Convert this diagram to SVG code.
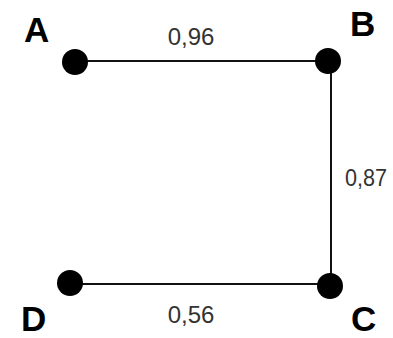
<svg xmlns="http://www.w3.org/2000/svg" width="393" height="338" viewBox="0 0 393 338">
<style>
.edge{stroke:#111;stroke-width:2;fill:none}
.dot{fill:#000}
.lbl{font-family:"Liberation Sans",Arial,sans-serif;font-size:35px;font-weight:bold;fill:#000}
.w{font-family:"Liberation Sans",Arial,sans-serif;font-size:24px;fill:#333}
</style>
<rect width="393" height="338" fill="#fff"/>
<g id="connectors">
<line class="edge" x1="76" y1="61" x2="331" y2="61"/>
<line class="edge" x1="331" y1="61" x2="331" y2="286"/>
<line class="edge" x1="70" y1="284" x2="330" y2="284" stroke="#444"/>
<text class="w" x="191" y="45" text-anchor="middle">0,96</text>
<text class="w" x="345" y="186" textLength="42" lengthAdjust="spacingAndGlyphs">0,87</text>
<text class="w" x="191" y="323" text-anchor="middle">0,56</text>
</g>
<g id="A"><circle class="dot" cx="75" cy="62" r="13"/><text class="lbl" x="24" y="42">A</text></g>
<g id="B"><circle class="dot" cx="328" cy="61" r="13"/><text class="lbl" x="350" y="36">B</text></g>
<g id="C"><circle class="dot" cx="330" cy="286" r="13"/><text class="lbl" x="351" y="331">C</text></g>
<g id="D"><circle class="dot" cx="70" cy="283" r="13"/><text class="lbl" x="21" y="331">D</text></g>
</svg>
